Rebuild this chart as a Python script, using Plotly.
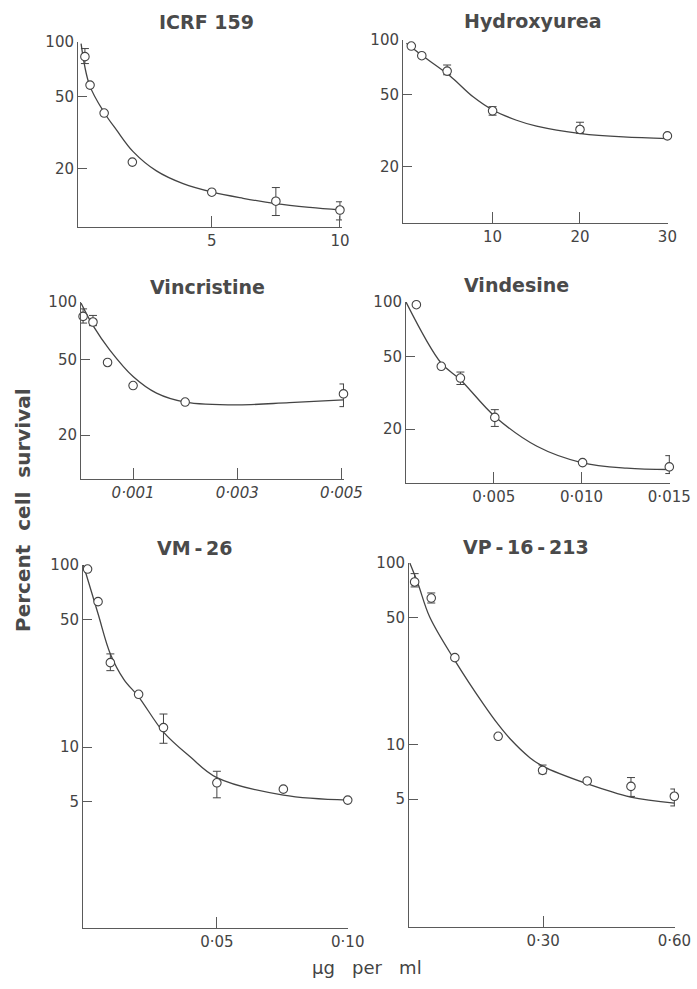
import plotly.graph_objects as go

W, H = 697, 989

# ---------------- data ----------------
titles = ["ICRF 159", "Hydroxyurea", "Vincristine", "Vindesine",
          "VM\u2009-\u200926", "VP\u2009-\u200916\u2009-\u2009213"]

# ICRF 159
icrf_x = [0.05, 0.25, 0.8, 1.9, 5.0, 7.5, 10.0]
icrf_y = [83, 57.8, 40.5, 21.7, 14.8, 13.2, 11.8]
icrf_ep = [9, 0, 0, 0, 0, 2.5, 1.3]
icrf_em = [7, 0, 0, 0, 0, 2.2, 1.4]
icrf_cx = [-0.1, 0.23, 0.82, 1.28, 1.93, 2.84, 3.88, 5.03, 6.22, 7.5, 8.83, 10.03]
icrf_cy = [98, 57.8, 40.4, 32.7, 24.8, 19.4, 16.5, 14.8, 13.7, 12.8, 12.2, 11.8]

# Hydroxyurea
hu_x = [0.7, 1.9, 4.8, 10.0, 20.0, 30.0]
hu_y = [92.6, 81.9, 67.4, 40.7, 32.1, 29.6]
hu_ep = [0, 0, 5.4, 2.2, 3.1, 0]
hu_em = [0, 0, 3.1, 2.2, 1.5, 0]
hu_cx = [0.14, 1.86, 5.1, 7.77, 10.06, 12.74, 15.03, 20.1, 24.95, 30.1]
hu_cy = [95.9, 82.6, 63.5, 48.6, 41.0, 36.1, 33.5, 30.5, 29.2, 28.6]

# Vincristine
vc_x = [0.00004, 0.00023, 0.00051, 0.001, 0.002, 0.00504]
vc_y = [84, 78.5, 48.1, 36.4, 29.8, 32.9]
vc_ep = [8, 6.5, 0, 0, 0, 4.2]
vc_em = [6.5, 3.4, 0, 0, 0, 4.7]
vc_cx = [0.0, 0.00024, 0.00055, 0.001, 0.00145, 0.002, 0.003, 0.004, 0.00504]
vc_cy = [98.8, 74.4, 56.1, 40.6, 33.2, 29.8, 28.8, 29.6, 30.6]

# Vindesine
vd_x = [0.00059, 0.00201, 0.0031, 0.00506, 0.01006, 0.015]
vd_y = [96.6, 44.3, 38.2, 23.2, 13.1, 12.4]
vd_ep = [0, 0, 3.0, 2.4, 0, 1.9]
vd_em = [0, 0, 3.0, 2.5, 0, 1.0]
vd_cx = [0.0, 0.002, 0.0031, 0.00506, 0.00746, 0.010, 0.01258, 0.015]
vd_cy = [100, 46.2, 37.4, 23.5, 16.1, 13.1, 12.2, 12.0]

# VM-26
vm_x = [0.0006, 0.0046, 0.0093, 0.0201, 0.0296, 0.05, 0.0754, 0.10]
vm_y = [95, 62.9, 29.1, 19.5, 12.8, 6.37, 5.88, 5.12]
vm_ep = [0, 0, 3.4, 0, 2.4, 1.0, 0, 0]
vm_em = [0, 0, 2.8, 0, 2.3, 1.1, 0, 0]
vm_cx = [-0.001, 0.0046, 0.0093, 0.0145, 0.0201, 0.0296, 0.0398, 0.05, 0.0754, 0.10]
vm_cy = [100, 54.0, 32.5, 23.5, 18.9, 12.1, 8.85, 6.8, 5.45, 5.12]

# VP-16-213
vp_x = [0.006, 0.044, 0.098, 0.197, 0.2986, 0.4007, 0.5008, 0.60]
vp_y = [78.6, 64.1, 30.1, 11.1, 7.21, 6.3, 5.88, 5.19]
vp_ep = [8.8, 4.3, 0, 0, 0.5, 0, 0.7, 0.5]
vp_em = [4.8, 3.9, 0, 0, 0.3, 0, 0.7, 0.6]
vp_cx = [-0.005, 0.0137, 0.0405, 0.0978, 0.1626, 0.197, 0.2237, 0.2695, 0.2986, 0.40, 0.50, 0.60]
vp_cy = [100, 76.9, 50.4, 29.1, 16.8, 12.9, 10.8, 8.47, 7.61, 6.09, 5.14, 4.76]

# tick labels
x_tickvals = [[5, 10], [10, 20, 30], [0.001, 0.003, 0.005], [0.005, 0.010, 0.015], [0.05, 0.10], [0.30, 0.60]]
x_ticktext = [["5", "10"], ["10", "20", "30"], ["0·001", "0·003", "0·005"],
              ["0·005", "0·010", "0·015"], ["0·05", "0·10"], ["0·30", "0·60"]]
y_tickvals = [[100, 50, 20], [100, 50, 20], [100, 50, 20], [100, 50, 20], [100, 50, 10, 5], [100, 50, 10, 5]]
y_ticktext = [["100", "50", "20"], ["100", "50", "20"], ["100", "50", "20"], ["100", "50", "20"],
              ["100", "50", "10", "5"], ["100", "50", "10", "5"]]

panels = [
    (icrf_x, icrf_y, icrf_ep, icrf_em, icrf_cx, icrf_cy),
    (hu_x, hu_y, hu_ep, hu_em, hu_cx, hu_cy),
    (vc_x, vc_y, vc_ep, vc_em, vc_cx, vc_cy),
    (vd_x, vd_y, vd_ep, vd_em, vd_cx, vd_cy),
    (vm_x, vm_y, vm_ep, vm_em, vm_cx, vm_cy),
    (vp_x, vp_y, vp_ep, vp_em, vp_cx, vp_cy),
]

# ---------------- layout geometry (pixels) ----------------
boxes = [(78, 342, 42, 227), (403, 668, 40, 223), (81, 344, 302, 479),
         (406, 670, 302, 483), (83, 348, 565, 928), (409, 675, 563, 927)]
xranges = [[-0.22, 10.08], [-0.25, 30.07], [0, 0.00505], [0, 0.01504], [-0.00115, 0.1001], [-0.0069, 0.6015]]
yranges = [[0.978, 2.0], [0.991, 2.0], [1.07, 2.0], [1.005, 2.0], [0.007, 2.0], [-0.005, 2.0]]
title_pos = [(206, 22), (533, 21), (207, 287), (516, 285), (195, 548), (526, 547)]

INK = "#444444"
AX = "#5a5a5a"
FONT = "DejaVu Sans"

fig = go.Figure()
layout = dict(width=W, height=H, margin=dict(l=0, r=0, t=0, b=0, pad=0, autoexpand=False), autosize=False,
              paper_bgcolor="white", plot_bgcolor="white", showlegend=False)
annotations = []

for i, (px, py, ep, em, cx, cy) in enumerate(panels):
    n = i + 1
    xa = "x" if n == 1 else f"x{n}"
    ya = "y" if n == 1 else f"y{n}"
    fig.add_trace(go.Scatter(x=cx, y=cy, mode="lines", xaxis=xa, yaxis=ya, cliponaxis=False,
                             line=dict(color="#444444", width=1.3, shape="spline", smoothing=1.0),
                             hoverinfo="skip"))
    fig.add_trace(go.Scatter(x=px, y=py, mode="markers", xaxis=xa, yaxis=ya, cliponaxis=False,
                             marker=dict(symbol="circle", size=8.5, color="white",
                                         line=dict(color="#444444", width=1.1)),
                             error_y=dict(type="data", symmetric=False, array=ep, arrayminus=em,
                                          color="#444444", thickness=1, width=4)))
    x0, x1, y0, y1 = boxes[i]
    xkey = "xaxis" if n == 1 else f"xaxis{n}"
    ykey = "yaxis" if n == 1 else f"yaxis{n}"
    italic = "italic" if i == 2 else "normal"
    layout[xkey] = dict(domain=[x0 / W, x1 / W], range=xranges[i], anchor=ya, automargin=False,
                        showgrid=False, zeroline=False, showline=True, linecolor=AX, linewidth=1,
                        ticks="inside", ticklen=11, tickcolor=AX, tickwidth=1,
                        tickmode="array", tickvals=x_tickvals[i], ticktext=x_ticktext[i],
                        tickfont=dict(family=FONT, size=15, color=INK, style=italic))
    layout[ykey] = dict(domain=[1 - y1 / H, 1 - y0 / H], range=yranges[i], type="log", anchor=xa,
                        automargin=False,
                        showgrid=False, zeroline=False, showline=True, linecolor=AX, linewidth=1,
                        ticks="inside", ticklen=9, tickcolor=AX, tickwidth=1,
                        tickmode="array", tickvals=y_tickvals[i], ticktext=y_ticktext[i],
                        tickfont=dict(family=FONT, size=15, color=INK))
    tx, ty = title_pos[i]
    annotations.append(dict(x=tx / W, y=1 - ty / H, xref="paper", yref="paper", text=titles[i],
                            showarrow=False, xanchor="center", yanchor="middle",
                            font=dict(family=FONT, size=19, color="#4a4a4a", weight="bold")))

annotations.append(dict(x=23 / W, y=1 - 510 / H, xref="paper", yref="paper",
                        text="Percent\u00a0\u00a0cell\u00a0\u00a0survival", textangle=-90, showarrow=False,
                        xanchor="center", yanchor="middle",
                        font=dict(family=FONT, size=20, color="#4a4a4a", weight="bold")))
annotations.append(dict(x=367 / W, y=1 - 967 / H, xref="paper", yref="paper",
                        text="μg\u00a0\u00a0\u00a0per\u00a0\u00a0\u00a0ml", showarrow=False,
                        xanchor="center", yanchor="middle",
                        font=dict(family=FONT, size=18, color=INK)))

layout["annotations"] = annotations
fig.update_layout(**layout)
fig.write_html("out.html", config={"displayModeBar": False},
               post_script="document.body.style.margin='0px';document.body.style.overflow='hidden';")
